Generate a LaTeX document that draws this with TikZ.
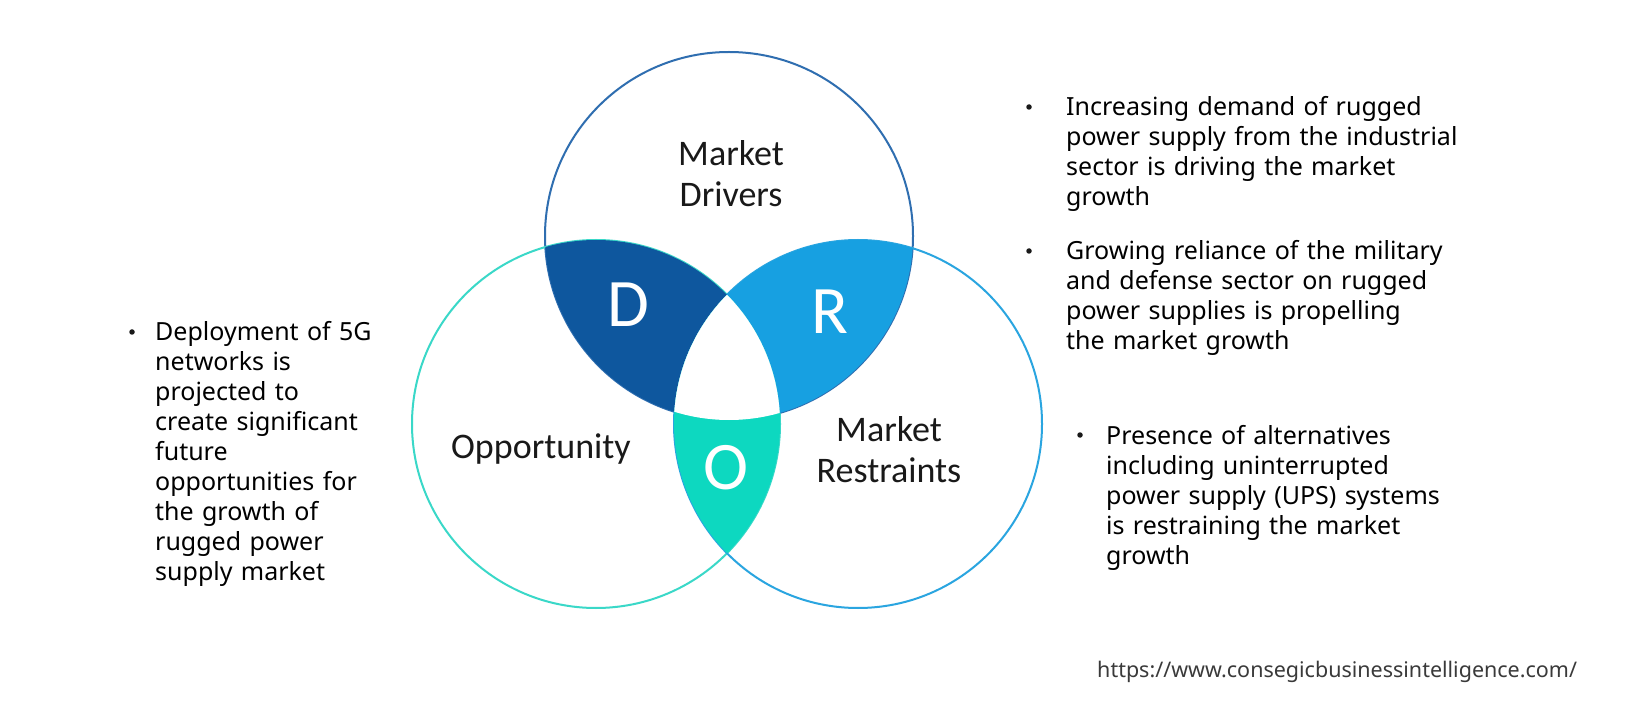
\documentclass[tikz,border=0pt]{standalone}
\usepackage{fontspec}
\setmainfont{Noto Sans}
\newfontfamily\calib{Carlito}
\definecolor{dfill}{HTML}{0E579E}
\definecolor{rfill}{HTML}{17A0E1}
\definecolor{ofill}{HTML}{0DD8C0}
\definecolor{topline}{HTML}{2F6EB0}
\definecolor{leftline}{HTML}{3AD8C8}
\definecolor{rightline}{HTML}{2AA5E0}
\definecolor{urlgray}{HTML}{3A3A3A}
\tikzset{
  ring/.style={line width=2pt},
  biglabel/.style={font=\calib\fontsize{36}{41}\selectfont, text=black!90, align=center, inner sep=0pt},
  letter/.style={font=\calib\fontsize{68}{68}\selectfont, text=white, inner sep=0pt},
  bullettext/.style={font=\fontsize{25}{30}\selectfont, text=black, align=left, text width=420pt, inner sep=0pt, anchor=base west},
  bulletdot/.style={circle, fill=black!90, inner sep=0pt, minimum size=5.5pt},
}
\begin{document}
\begin{tikzpicture}[x=1pt,y=-1pt]
\useasboundingbox (0,0) rectangle (1641,708);
\fill[white] (0,0) rectangle (1641,708);
\def\R{184pt}
\coordinate (cT) at (729,236);
\coordinate (cL) at (596,424);
\coordinate (cRt) at (858,424);
% outlines
\draw[ring, topline] (cT) circle[radius=\R];
\draw[ring, leftline] (cL) circle[radius=\R];
\draw[ring, rightline] (cRt) circle[radius=\R];
% D region
\begin{scope}
  \clip (cT) circle[radius=\R];
  \clip (cL) circle[radius=\R];
  \fill[dfill] (300,0) rectangle (1100,708);
  \fill[white] (cRt) circle[radius=\R];
\end{scope}
% R region
\begin{scope}
  \clip (cT) circle[radius=\R];
  \clip (cRt) circle[radius=\R];
  \fill[rfill] (300,0) rectangle (1100,708);
  \fill[white] (cL) circle[radius=\R];
\end{scope}
% O region
\begin{scope}
  \clip (cL) circle[radius=\R];
  \clip (cRt) circle[radius=\R];
  \fill[ofill] (300,0) rectangle (1100,708);
  \fill[white] (cT) circle[radius=\R];
\end{scope}
% circle labels
\node[biglabel] (drivers) at (731,173.5) {Market\\Drivers};
\node[biglabel, anchor=base] (opp) at (541,458) {Opportunity};
\node[biglabel, anchor=base] (restr) at (889,482.5) {Market\\Restraints};
\node[letter] (D) at (628,305) {D};
\node[letter] (Rl) at (830,312) {R};
\node[letter] (O) at (726,468) {O};
% right bullets
\node[bulletdot] (b1) at (1029,107) {};
\node[bullettext] (t1) at (1066,116) {Increasing demand of rugged\\power supply from the industrial\\sector is driving the market\\growth};
\node[bulletdot] (b2) at (1029,251) {};
\node[bullettext] (t2) at (1066,260) {Growing reliance of the military\\and defense sector on rugged\\power supplies is propelling\\the market growth};
\node[bulletdot] (b3) at (1080,435) {};
\node[bullettext] (t3) at (1106,444) {Presence of alternatives\\including uninterrupted\\power supply (UPS) systems\\is restraining the market\\growth};
% left bullet
\node[bulletdot] (b4) at (132,332) {};
\node[bullettext] (t4) at (155,341) {Deployment of 5G\\networks is\\projected to\\create significant\\future\\opportunities for\\the growth of\\rugged power\\supply market};
% url
\node[font=\fontsize{21.5}{24}\selectfont, text=urlgray, inner sep=0pt, anchor=base west] (url) at (1097,677) {https://www.consegicbusinessintelligence.com/};
\end{tikzpicture}
\end{document}
